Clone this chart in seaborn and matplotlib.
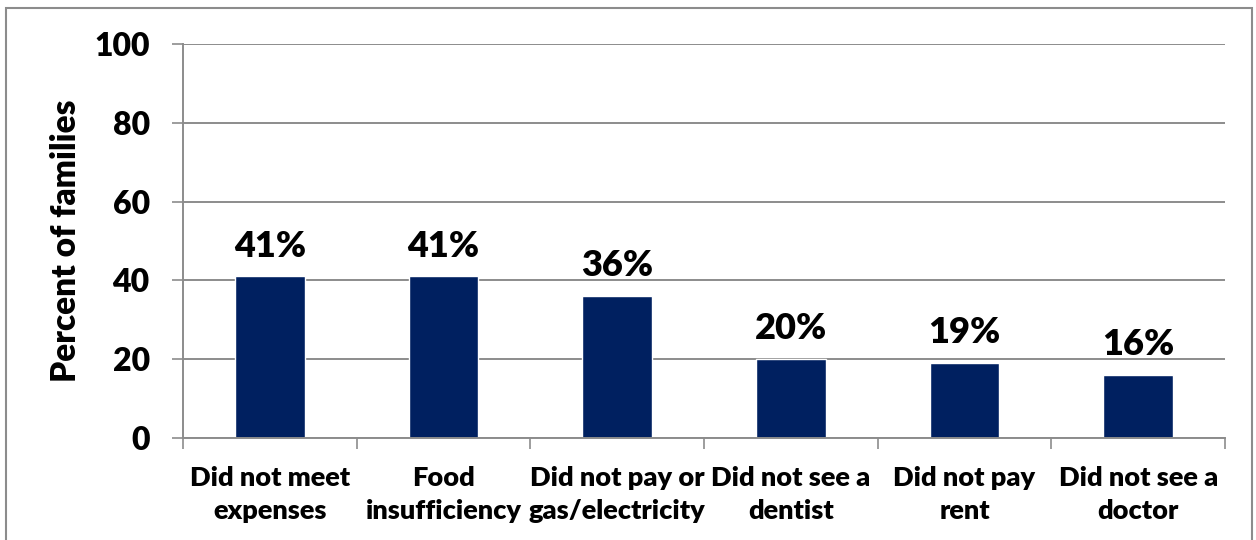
import matplotlib
matplotlib.use("Agg")
import matplotlib.pyplot as plt
import seaborn as sns
import pandas as pd
from matplotlib.patches import Rectangle

categories = ["Did not meet\nexpenses", "Food\ninsufficiency", "Did not pay or\ngas/electricity",
              "Did not see a\ndentist", "Did not pay\nrent", "Did not see a\ndoctor"]
values = [41, 41, 36, 20, 19, 16]
yticks = [0, 20, 40, 60, 80, 100]

sns.set_theme(style="white")
plt.rcParams['font.family'] = ['Lato', 'DejaVu Sans']
plt.rcParams['font.weight'] = 'bold'
plt.rcParams['text.color'] = 'black'
plt.rcParams['axes.labelcolor'] = 'black'
plt.rcParams['xtick.color'] = 'black'
plt.rcParams['ytick.color'] = 'black'

fig = plt.figure(figsize=(12.56, 5.40), dpi=100)
ax = fig.add_axes([183/1256, 1-438/540, (1225-183)/1256, (438-44)/540])

df = pd.DataFrame({"cat": categories, "val": values})
sns.barplot(data=df, x="cat", y="val", color="#002060", width=0.4, saturation=1, ax=ax)

ax.set_ylim(0, 100)
ax.set_xlim(-0.5, len(categories) - 0.5)
ax.set_yticks(yticks)
ax.set_yticklabels([str(t) for t in yticks], fontsize=23, fontweight='heavy', color='black')
ax.yaxis.grid(True, color="#8c8c8c", linewidth=1.4)
ax.set_axisbelow(True)

ax.tick_params(axis='y', which='major', length=8, width=1.2, color="#8c8c8c", pad=16, left=True,
               direction='out', labelcolor='black')
ax.tick_params(axis='x', which='major', length=0, pad=20, labelcolor='black')
ax.set_xticks([i - 0.5 for i in range(len(categories) + 1)], minor=True)
ax.tick_params(axis='x', which='minor', length=8, width=1.2, color="#8c8c8c", bottom=True, direction='out')
for lbl in ax.get_xticklabels():
    lbl.set_fontsize(19.5)
    lbl.set_fontweight('heavy')
    lbl.set_linespacing(1.45)

for s in ['top', 'right']:
    ax.spines[s].set_visible(False)
for s in ['left', 'bottom']:
    ax.spines[s].set_color("#8c8c8c")
    ax.spines[s].set_linewidth(1.4)

ax.set_xlabel("")
ax.set_ylabel("Percent of families", fontsize=24, fontweight='heavy', labelpad=9, color='black')

ax.bar_label(ax.containers[0], labels=[f"{v}%" for v in values], padding=10,
             fontsize=26, fontweight='heavy', color='black')

fig.patches.append(Rectangle((6/1256, -0.05), (1252-6)/1256, 1.05 - 8/540, transform=fig.transFigure,
                             fill=False, edgecolor="#8c8c8c", linewidth=1.5))

fig.savefig("out.png", dpi=100)
